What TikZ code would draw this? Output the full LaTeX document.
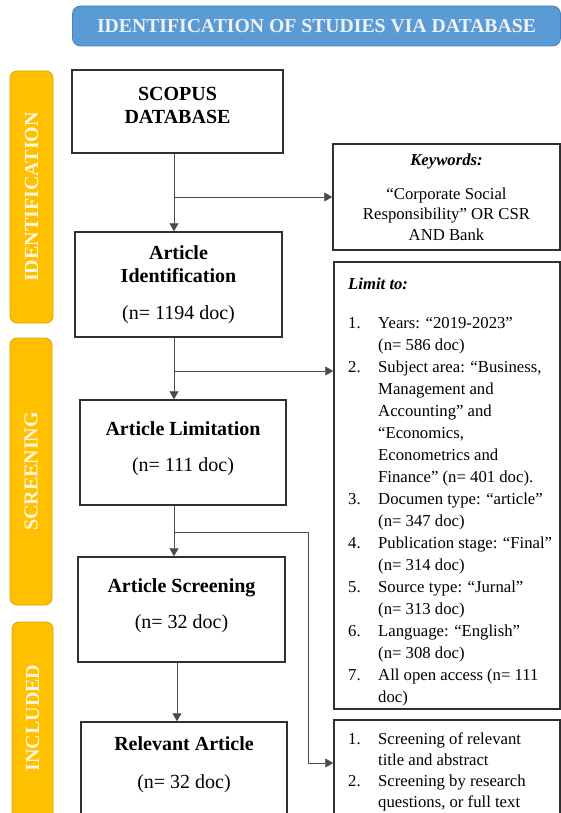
\documentclass[tikz,border=0pt]{standalone}
\usepackage{fontspec}
\setmainfont{Liberation Serif}
\usetikzlibrary{arrows.meta}
\definecolor{barY}{HTML}{FFC000}
\definecolor{barYd}{HTML}{DDA200}
\definecolor{bannerB}{HTML}{5B9BD5}
\definecolor{bannerBd}{HTML}{4A80BC}
\definecolor{boxline}{HTML}{303030}
\definecolor{conline}{HTML}{4A4A4A}
\definecolor{bartext}{HTML}{FFF6DC}
\definecolor{bantext}{HTML}{EEF2F8}
\newcommand\numlbl[1]{\makebox[30pt][l]{#1}}
\newcommand\hangind{\hspace*{30pt}}
\begin{document}
\begin{tikzpicture}[x=1pt,y=-1pt,
  flowbox/.style={draw=boxline, line width=1.5pt, fill=white, inner sep=0pt, align=center,
    font=\fontsize{20}{23}\selectfont},
  infobox/.style={draw=boxline, line width=1.5pt, fill=white, inner sep=0pt},
  infotext/.style={inner sep=0pt, align=left, font=\fontsize{16.7}{22}\selectfont},
  stagebar/.style={draw=barYd, line width=0.8pt, fill=barY, rounded corners=7pt, inner sep=0pt},
  stagetext/.style={rotate=90, text=bartext, font=\fontsize{20}{23}\selectfont\bfseries, inner sep=0pt},
  conn/.style={draw=conline, line width=0.9pt},
  arrow/.style={conn, -{Triangle[length=8pt,width=9pt]}},
]
\clip (0,0) rectangle (561,813);
\fill[white] (0,0) rectangle (561,813);

% banner
\node[draw=bannerBd, line width=0.8pt, fill=bannerB, rounded corners=8pt, minimum width=488pt, minimum height=40pt,
  inner sep=0pt, text=bantext, font=\fontsize{19.7}{22}\selectfont\bfseries] (banner) at (316.5,26)
  {IDENTIFICATION OF STUDIES VIA DATABASE};

% stage bars
\node[stagebar, minimum width=43pt, minimum height=252pt] (barid) at (31.5,197) {};
\node[stagetext] (txtid) at (31.5,197) {IDENTIFICATION};
\node[stagebar, minimum width=42pt, minimum height=267pt] (barsc) at (31,471.5) {};
\node[stagetext] (txtsc) at (31,471.5) {SCREENING};
\node[stagebar, minimum width=41pt, minimum height=210pt] (barin) at (32.5,727) {};
\node[stagetext] (txtin) at (32.5,718) {INCLUDED};

% main flow boxes
\node[flowbox, minimum width=211pt, minimum height=83pt] (scopus) at (177.5,111.5)
  {\textbf{SCOPUS}\\\textbf{DATABASE}\\[-10pt]\mbox{}};
\node[flowbox, minimum width=207pt, minimum height=105pt] (artid) at (178.5,284.5)
  {\textbf{Article}\\\textbf{Identification}\\[14pt](n= 1194 doc)};
\node[flowbox, minimum width=206pt, minimum height=105pt] (artlim) at (183,452.5)
  {\textbf{Article Limitation}\\[13pt](n= 111 doc)\\[-12pt]\mbox{}};
\node[flowbox, minimum width=207pt, minimum height=105pt] (artscr) at (181.5,609.5)
  {\textbf{Article Screening}\\[13pt](n= 32 doc)\\[-12pt]\mbox{}};
\node[flowbox, minimum width=206pt, minimum height=92pt] (artrel) at (184,768)
  {\textbf{Relevant Article}\\[15pt](n= 32 doc)\\[-12pt]\mbox{}};

% info boxes
\node[infobox, minimum width=227pt, minimum height=106pt, align=center,
  font=\fontsize{16.7}{20.5}\selectfont] (kw) at (446.5,197)
  {\textbf{\textit{Keywords:}}\\[13.5pt]“Corporate Social\\Responsibility” OR CSR\\AND Bank};

\node[infobox, minimum width=226pt, minimum height=447pt] (limbox) at (447,485.5) {};
\node[infotext, anchor=north west] (limtxt) at (348,277.5) {%
\textbf{\textit{Limit to:}}\\[17pt]
\numlbl{1.}Years: “2019-2023”\\
\hangind(n= 586 doc)\\
\numlbl{2.}Subject area: “Business,\\
\hangind Management and\\
\hangind Accounting” and\\
\hangind “Economics,\\
\hangind Econometrics and\\
\hangind Finance” (n= 401 doc).\\
\numlbl{3.}Documen type: “article”\\
\hangind(n= 347 doc)\\
\numlbl{4.}Publication stage: “Final”\\
\hangind(n= 314 doc)\\
\numlbl{5.}Source type: “Jurnal”\\
\hangind(n= 313 doc)\\
\numlbl{6.}Language: “English”\\
\hangind(n= 308 doc)\\
\numlbl{7.}All open access (n= 111\\
\hangind doc)};

\node[infobox, minimum width=226pt, minimum height=110pt] (scrbox) at (447,775) {};
\node[infotext, anchor=north west, font=\fontsize{16.7}{21}\selectfont] (scrtxt) at (348,732.5) {%
\numlbl{1.}Screening of relevant\\
\hangind title and abstract\\
\numlbl{2.}Screening by research\\
\hangind questions, or full text};

% connectors
\coordinate (j1) at (174,197);
\draw[arrow] (scopus.south -| j1) -- (artid.north -| j1);
\draw[arrow] (j1) -- (j1 -| kw.west);

\coordinate (j2) at (174,371);
\draw[arrow] (artid.south -| j2) -- (artlim.north -| j2);
\draw[arrow] (j2) -- (j2 -| limbox.west);

\coordinate (j3) at (174,532);
\coordinate (k3) at (308,763);
\draw[arrow] (artlim.south -| j3) -- (artscr.north -| j3);
\draw[arrow] (j3) -| (k3) -- (k3 -| scrbox.west);

\coordinate (j4) at (177,690);
\draw[arrow] (artscr.south -| j4) -- (artrel.north -| j4);
\end{tikzpicture}
\end{document}
